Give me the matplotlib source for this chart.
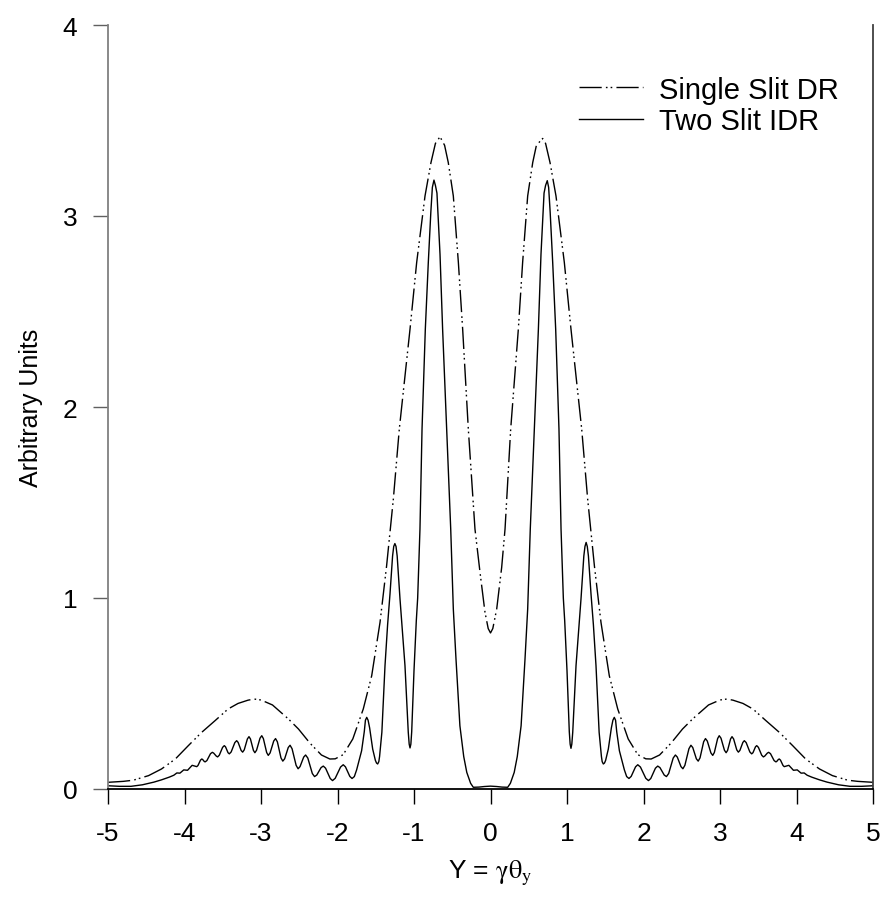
import matplotlib
matplotlib.use("Agg")
import matplotlib.pyplot as plt

plt.rcParams['font.family'] = ['Liberation Sans', 'DejaVu Sans']
plt.rcParams['mathtext.fontset'] = 'stix'

# Two Slit IDR (solid)
two_slit_x = [-5.00, -4.85, -4.70, -4.55, -4.40, -4.30, -4.20, -4.14, -4.10, -4.06,
              -4.01, -3.96, -3.90,
              -3.84, -3.824, -3.791, -3.775, -3.764, -3.741, -3.73, -3.707, -3.660,
              -3.636, -3.619, -3.584, -3.567, -3.545, -3.502, -3.48, -3.464, -3.431,
              -3.414, -3.390, -3.342, -3.318, -3.299, -3.260, -3.24, -3.219, -3.178,
              -3.157, -3.138, -3.099, -3.08, -3.058, -3.013, -2.99, -2.969, -2.926,
              -2.905, -2.881, -2.834, -2.81, -2.786, -2.739, -2.715, -2.691, -2.644,
              -2.62, -2.594, -2.541, -2.515, -2.490, -2.442, -2.417, -2.388, -2.329,
              -2.30, -2.271, -2.215, -2.186, -2.156, -2.095, -2.065, -2.030, -1.960,
              -1.925, -1.896, -1.839, -1.81, -1.78, -1.75, -1.685, -1.65, -1.635,
              -1.618, -1.60, -1.58, -1.54, -1.505, -1.49, -1.475, -1.46, -1.45,
              -1.42, -1.379, -1.345, -1.314, -1.28, -1.265, -1.25, -1.235, -1.22,
              -1.183, -1.118, -1.075, -1.063, -1.052, -1.041, -1.03, -1.00, -0.97,
              -0.952, -0.922, -0.895, -0.852, -0.813, -0.78, -0.76, -0.739, -0.72,
              -0.70, -0.66, -0.626, -0.573, -0.52, -0.486, -0.451, -0.40, -0.35,
              -0.31, -0.26, -0.225, -0.15, -0.08, 0.00,
              0.08, 0.15, 0.225, 0.26, 0.31, 0.35, 0.40, 0.451, 0.486, 0.52,
              0.573, 0.626, 0.66, 0.70, 0.72, 0.742, 0.76, 0.78, 0.813, 0.852,
              0.895, 0.922, 0.952, 0.97, 1.00, 1.03, 1.041, 1.052, 1.063, 1.075,
              1.118, 1.183, 1.22, 1.235, 1.25, 1.265, 1.28, 1.314, 1.345, 1.379,
              1.42, 1.45, 1.46, 1.475, 1.49, 1.505, 1.54, 1.58, 1.60, 1.618,
              1.635, 1.65, 1.685, 1.75, 1.78, 1.81, 1.839, 1.896, 1.925, 1.960,
              2.030, 2.065, 2.095, 2.156, 2.186, 2.215, 2.271, 2.30, 2.329, 2.388,
              2.417, 2.442, 2.490, 2.515, 2.541, 2.594, 2.62, 2.644, 2.691, 2.715,
              2.739, 2.786, 2.81, 2.834, 2.881, 2.905, 2.926, 2.969, 2.99, 3.013,
              3.058, 3.08, 3.099, 3.138, 3.157, 3.178, 3.219, 3.24, 3.260, 3.299,
              3.318, 3.342, 3.390, 3.414, 3.431, 3.464, 3.48, 3.502, 3.545, 3.567,
              3.584, 3.619, 3.636, 3.660, 3.707, 3.73, 3.741, 3.764, 3.775, 3.791,
              3.824, 3.84,
              3.90, 3.96, 4.01, 4.06, 4.10, 4.14, 4.20, 4.30, 4.40, 4.55,
              4.70, 4.85, 5.00]
two_slit_y = [0.017, 0.014, 0.014, 0.022, 0.036, 0.048, 0.062, 0.072, 0.084, 0.083,
              0.100, 0.098, 0.124,
              0.117, 0.123, 0.151, 0.157, 0.155, 0.144, 0.142, 0.149, 0.185,
              0.192, 0.188, 0.172, 0.168, 0.177, 0.218, 0.227, 0.221, 0.190,
              0.184, 0.194, 0.243, 0.253, 0.244, 0.202, 0.193, 0.205, 0.262,
              0.274, 0.262, 0.202, 0.190, 0.203, 0.266, 0.279, 0.264, 0.191,
              0.176, 0.189, 0.251, 0.264, 0.247, 0.163, 0.146, 0.158, 0.217,
              0.229, 0.211, 0.124, 0.106, 0.117, 0.167, 0.178, 0.162, 0.081,
              0.065, 0.073, 0.112, 0.120, 0.109, 0.055, 0.044, 0.056, 0.115,
              0.127, 0.116, 0.066, 0.055, 0.065, 0.100, 0.200, 0.300, 0.360,
              0.375, 0.360, 0.320, 0.209, 0.150, 0.136, 0.131, 0.143, 0.170,
              0.297, 0.646, 0.860, 1.020, 1.220, 1.270, 1.285, 1.270, 1.220,
              0.995, 0.646, 0.297, 0.235, 0.215, 0.235, 0.300, 0.620, 0.880,
              1.000, 1.361, 1.885, 2.408, 2.757, 3.020, 3.150, 3.188, 3.160,
              3.120, 2.800, 2.408, 1.885, 1.361, 0.942, 0.680, 0.331, 0.170,
              0.087, 0.030, 0.009, 0.010, 0.013, 0.015,
              0.013, 0.010, 0.009, 0.030, 0.087, 0.170, 0.331, 0.680, 0.942, 1.361,
              1.885, 2.408, 2.800, 3.120, 3.160, 3.185, 3.150, 3.020, 2.757, 2.408,
              1.885, 1.361, 1.000, 0.880, 0.620, 0.300, 0.235, 0.213, 0.235, 0.297,
              0.646, 0.995, 1.220, 1.270, 1.291, 1.270, 1.220, 1.020, 0.860, 0.646,
              0.297, 0.170, 0.143, 0.131, 0.136, 0.150, 0.209, 0.320, 0.360, 0.375,
              0.360, 0.300, 0.200, 0.100, 0.065, 0.055, 0.066, 0.116, 0.127, 0.115,
              0.056, 0.044, 0.055, 0.109, 0.120, 0.112, 0.073, 0.065, 0.081, 0.162,
              0.178, 0.167, 0.117, 0.106, 0.124, 0.211, 0.229, 0.217, 0.158, 0.146,
              0.163, 0.247, 0.264, 0.251, 0.189, 0.176, 0.191, 0.264, 0.279, 0.266,
              0.203, 0.190, 0.202, 0.262, 0.274, 0.262, 0.205, 0.193, 0.202, 0.244,
              0.253, 0.243, 0.194, 0.184, 0.190, 0.221, 0.227, 0.218, 0.177, 0.168,
              0.172, 0.188, 0.192, 0.185, 0.149, 0.142, 0.144, 0.155, 0.157, 0.151,
              0.123, 0.117,
              0.124, 0.098, 0.100, 0.083, 0.084, 0.072, 0.062, 0.048, 0.036, 0.022,
              0.014, 0.014, 0.017]

# Single Slit DR (dash-dot-dot)
single_slit_x = [-5.00, -4.80, -4.67, -4.47, -4.30, -4.12, -3.95, -3.78, -3.60, -3.43,
                 -3.30, -3.17, -3.09, -3.00, -2.85, -2.64, -2.51, -2.36, -2.21, -2.10,
                 -2.03, -1.925, -1.80, -1.663, -1.553, -1.444, -1.358, -1.27, -1.192, -1.052,
                 -0.965, -0.856, -0.778, -0.72, -0.66, -0.60, -0.552, -0.486, -0.42, -0.364,
                 -0.29, -0.203, -0.137, -0.072, -0.03, 0.00,
                 0.03, 0.081, 0.146, 0.19, 0.264, 0.364, 0.42, 0.486, 0.552, 0.60,
                 0.682, 0.72, 0.778, 0.856, 0.965, 1.052, 1.192, 1.27, 1.358, 1.444,
                 1.553, 1.663, 1.80, 1.925, 2.03, 2.10, 2.21, 2.36, 2.51, 2.64,
                 2.85, 3.00, 3.09, 3.17, 3.30, 3.43, 3.60, 3.78, 3.95, 4.12,
                 4.30, 4.47, 4.67, 4.80, 5.00]
single_slit_y = [0.035, 0.040, 0.046, 0.070, 0.105, 0.157, 0.227, 0.295, 0.358, 0.419,
                 0.448, 0.465, 0.471, 0.466, 0.440, 0.366, 0.314, 0.240, 0.178, 0.157,
                 0.158, 0.180, 0.262, 0.419, 0.593, 0.873, 1.169, 1.518, 1.885, 2.408,
                 2.757, 3.105, 3.280, 3.380, 3.415, 3.370, 3.280, 3.105, 2.757, 2.408,
                 1.885, 1.361, 1.134, 0.925, 0.840, 0.817,
                 0.840, 0.942, 1.160, 1.361, 1.885, 2.408, 2.757, 3.105, 3.280, 3.370,
                 3.406, 3.380, 3.280, 3.105, 2.757, 2.408, 1.885, 1.518, 1.169, 0.873,
                 0.593, 0.419, 0.262, 0.180, 0.158, 0.157, 0.178, 0.240, 0.314, 0.366,
                 0.440, 0.466, 0.471, 0.465, 0.448, 0.419, 0.358, 0.295, 0.227, 0.157,
                 0.105, 0.070, 0.046, 0.040, 0.035]

x_ticks = [-5, -4, -3, -2, -1, 0, 1, 2, 3, 4, 5]
y_ticks = [0, 1, 2, 3, 4]

fig = plt.figure(figsize=(8.85, 9.2), dpi=100)
ax = fig.add_axes([108/885, 130/920, 765/885, 764/920])

ax.plot(single_slit_x, single_slit_y, color='black', lw=1.0,
        dashes=(16, 3, 1.2, 2.2, 1.2, 3), label='Single Slit DR')
ax.plot(two_slit_x, two_slit_y, color='black', lw=1.0, label='Two Slit IDR')

ax.set_xlim(-5, 5)
ax.set_ylim(0, 4)
ax.set_xticks(x_ticks)
ax.set_yticks(y_ticks)
ax.set_xticklabels([str(v) for v in x_ticks])
ax.set_yticklabels([str(v) for v in y_ticks])

ax.spines['top'].set_visible(False)
ax.spines['left'].set_color('#808080')
ax.spines['right'].set_color('#404040')
ax.spines['bottom'].set_color('black')
for s in ax.spines.values():
    s.set_linewidth(1.3)

ax.tick_params(axis='x', direction='out', length=11, width=1, pad=12,
               labelsize=19, colors='black')
ax.tick_params(axis='y', direction='out', length=11, width=1, pad=11,
               labelsize=19, color='#606060', labelcolor='black')

ax.set_xlabel(r'Y = $\mathrm{\gamma\theta}_{\mathrm{y}}$', fontsize=19, labelpad=9)
ax.set_ylabel('Arbitrary Units', fontsize=18, labelpad=14)

leg = ax.legend(loc='upper right', bbox_to_anchor=(0.99, 0.968), frameon=False,
                fontsize=21, handlelength=2.2, handletextpad=0.55, labelspacing=0.12)

fig.savefig('out.png', dpi=100)
